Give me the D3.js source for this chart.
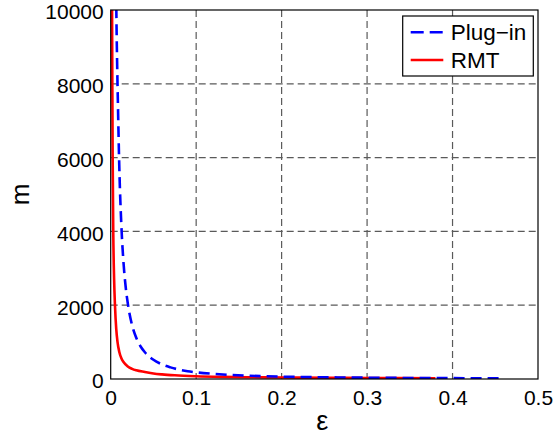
<!DOCTYPE html>
<html>
<head>
<meta charset="utf-8">
<script src="https://cdn.jsdelivr.net/npm/d3@7"></script>
<style>
  html, body { margin: 0; padding: 0; background: #fff; }
  svg { display: block; }
  text { font-family: "Liberation Sans", Arial, Helvetica, sans-serif; fill: #000; }
</style>
</head>
<body>
<div id="chart"></div>
<script>
// Sample size m needed versus error tolerance epsilon
const plugEps = [0.0062, 0.0066, 0.0075, 0.0085, 0.010, 0.0125, 0.015, 0.0175, 0.020, 0.025, 0.030, 0.035, 0.040, 0.050, 0.060, 0.070, 0.080, 0.090, 0.100, 0.120, 0.140, 0.160, 0.180, 0.200, 0.250, 0.300, 0.350, 0.400, 0.458];
const plugM   = [11000, 10000, 8600, 7400, 5800, 4150, 3150, 2500, 2050, 1460, 1110, 880, 725, 520, 395, 315, 255, 210, 180, 140, 110, 90, 75, 64, 46, 35, 28, 23, 19];

const rmtEps = [0.0014, 0.0016, 0.0019, 0.0023, 0.0030, 0.0040, 0.0050, 0.0065, 0.0080, 0.010, 0.0125, 0.015, 0.020, 0.025, 0.030, 0.040, 0.050, 0.060, 0.075, 0.100, 0.130, 0.160, 0.200, 0.250, 0.300, 0.380];
const rmtM   = [11500, 10000, 8000, 6000, 4000, 2700, 2000, 1350, 1000, 740, 560, 460, 340, 275, 235, 190, 150, 125, 100, 75, 58, 48, 40, 33, 28, 22];

const xTicks = [0, 0.1, 0.2, 0.3, 0.4, 0.5];
const yTicks = [0, 2000, 4000, 6000, 8000, 10000];
const seriesNames = ["Plug\u2212in", "RMT"];
const seriesColors = ["#0000ff", "#ff0000"];

const W = 556, H = 436;
const margin = { left: 110.7, right: 18, top: 10, bottom: 57 };
const pw = W - margin.left - margin.right;
const ph = H - margin.top - margin.bottom;

const svg = d3.select("#chart").append("svg").attr("width", W).attr("height", H);
const g = svg.append("g").attr("transform", `translate(${margin.left},${margin.top})`);

const x = d3.scaleLinear().domain([0, 0.5]).range([0, pw]);
const y = d3.scaleLinear().domain([0, 10000]).range([ph, 0]);

// grid lines
const gridColor = "#5a5a5a";
g.append("g").selectAll("line").data(xTicks.slice(1, -1)).join("line")
  .attr("x1", d => x(d)).attr("x2", d => x(d)).attr("y1", 0).attr("y2", ph)
  .attr("stroke", gridColor).attr("stroke-width", 1.2).attr("stroke-dasharray", "7,4");
g.append("g").selectAll("line").data(yTicks.slice(1, -1)).join("line")
  .attr("y1", d => y(d)).attr("y2", d => y(d)).attr("x1", 0).attr("x2", pw)
  .attr("stroke", gridColor).attr("stroke-width", 1.2).attr("stroke-dasharray", "7,4");

// curves
svg.append("defs").append("clipPath").attr("id", "plotclip")
  .append("rect").attr("x", 0).attr("y", 0).attr("width", pw).attr("height", ph);
const line = d3.line().x(d => x(d[0])).y(d => y(d[1])).curve(d3.curveMonotoneX);
const curves = g.append("g").attr("clip-path", "url(#plotclip)");
curves.append("path").datum(d3.zip(rmtEps, rmtM)).attr("d", line)
  .attr("fill", "none").attr("stroke", seriesColors[1]).attr("stroke-width", 2.6);
curves.append("path").datum(d3.zip(plugEps, plugM)).attr("d", line)
  .attr("fill", "none").attr("stroke", seriesColors[0]).attr("stroke-width", 2.6)
  .attr("stroke-dasharray", "11,6");

// frame
g.append("rect").attr("x", 0).attr("y", 0).attr("width", pw).attr("height", ph)
  .attr("fill", "none").attr("stroke", "#000").attr("stroke-width", 1.2);

// axes (labels only, no tick marks)
const xAxis = g.append("g").attr("transform", `translate(0,${ph})`)
  .call(d3.axisBottom(x).tickValues(xTicks).tickFormat(d => d === 0 ? "0" : d3.format(".1f")(d)).tickSize(0).tickPadding(11));
const yAxis = g.append("g")
  .call(d3.axisLeft(y).tickValues(yTicks).tickFormat(d3.format("d")).tickSize(0).tickPadding(7));
[xAxis, yAxis].forEach(a => {
  a.select(".domain").remove();
  a.selectAll("text").style("font-size", "21px").attr("fill", "#000")
    .style("font-family", "'Liberation Sans', Arial, Helvetica, sans-serif");
});
yAxis.selectAll("text").attr("dy", "0.42em");

// axis titles
svg.append("text").attr("x", margin.left + pw / 2 - 2).attr("y", 430)
  .attr("text-anchor", "middle").style("font-size", "27px").text("\u03b5");
svg.append("text").attr("transform", `translate(29,${margin.top + ph / 2}) rotate(-90)`)
  .attr("text-anchor", "middle").style("font-size", "26px").text("m");

// legend
const lg = svg.append("g").attr("transform", "translate(402.7,16)");
lg.append("rect").attr("width", 130.6).attr("height", 60).attr("fill", "#fff")
  .attr("stroke", "#000").attr("stroke-width", 1.2);
const rows = [32.3 - 16, 60 - 16];
seriesNames.forEach((name, i) => {
  lg.append("line").attr("x1", 8).attr("x2", 40.6).attr("y1", rows[i]).attr("y2", rows[i])
    .attr("stroke", seriesColors[i]).attr("stroke-width", 2.6)
    .attr("stroke-dasharray", i === 0 ? "13,6" : null);
  lg.append("text").attr("x", 48).attr("y", rows[i]).attr("dy", "0.36em")
    .style("font-size", "22.5px").text(name);
});
</script>
</body>
</html>
